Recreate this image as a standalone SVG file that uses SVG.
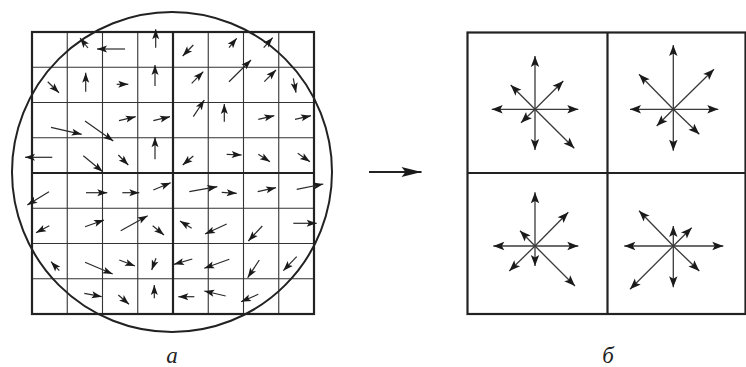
<svg xmlns="http://www.w3.org/2000/svg" width="746" height="367" viewBox="0 0 746 367">
<style>
.thin{stroke:#333;stroke-width:1.1;fill:none}
.thick{stroke:#222;stroke-width:2.2;fill:none}
.a{stroke:#2a2a2a;stroke-width:1.2;fill:none;marker-end:url(#h)}
.b{stroke:#3a3a3a;stroke-width:1.3;fill:none;marker-end:url(#hb)}
.lbl{font-family:"Liberation Serif","DejaVu Serif",serif;font-style:italic;font-size:23px;fill:#222}
</style>
<defs>
<marker id="h" markerUnits="userSpaceOnUse" markerWidth="13" markerHeight="10" refX="10" refY="0" viewBox="-1 -5 13 10" orient="auto"><path d="M0,-3.5 L10,0 L0,3.5 L2.2,0 Z" fill="#1a1a1a"/></marker>
<marker id="hb" markerUnits="userSpaceOnUse" markerWidth="15" markerHeight="11" refX="11" refY="0" viewBox="-1 -5.5 14 11" orient="auto"><path d="M0,-4.2 L11,0 L0,4.2 L2.4,0 Z" fill="#1a1a1a"/></marker>
<marker id="hm" markerUnits="userSpaceOnUse" markerWidth="24" markerHeight="14" refX="20" refY="0" viewBox="-1 -7 23 14" orient="auto"><path d="M0,-5 L20,0 L0,5 L4,0 Z" fill="#1a1a1a"/></marker>
</defs>

<g id="grid-a">
<path class="thin" d="M67.25,32V314M102.5,32V314M137.75,32V314M208.25,32V314M243.5,32V314M278.75,32V314M32,67.25H314M32,102.5H314M32,137.75H314M32,208.25H314M32,243.5H314M32,278.75H314"/>
<rect class="thick" x="32" y="32" width="282" height="282"/>
<path class="thick" d="M173,32V314M32,173H314"/>
</g>
<g id="circle-a"><circle cx="172" cy="172" r="160" fill="none" stroke="#222" stroke-width="2"/></g>

<g id="field-a">
<line class="a" x1="88" y1="48" x2="80" y2="38"/>
<line class="a" x1="125" y1="49" x2="97" y2="49"/>
<line class="a" x1="155.7" y1="47.7" x2="155.7" y2="29.3"/>
<line class="a" x1="193.3" y1="45" x2="182.7" y2="56"/>
<line class="a" x1="229" y1="47.7" x2="236.7" y2="38.3"/>
<line class="a" x1="263.7" y1="47.7" x2="272.7" y2="37.7"/>
<line class="a" x1="47.7" y1="81.7" x2="59" y2="92.7"/>
<line class="a" x1="85.7" y1="91.7" x2="85.7" y2="72.7"/>
<line class="a" x1="116.7" y1="84.3" x2="128.3" y2="84.3"/>
<line class="a" x1="155" y1="86" x2="155" y2="65"/>
<line class="a" x1="191.7" y1="83.3" x2="203.3" y2="71.7"/>
<line class="a" x1="229" y1="81.7" x2="251" y2="60"/>
<line class="a" x1="264.3" y1="81.7" x2="276" y2="70"/>
<line class="a" x1="293.3" y1="78.3" x2="296" y2="92.7"/>
<line class="a" x1="51" y1="127.3" x2="81.7" y2="134.3"/>
<line class="a" x1="85" y1="121" x2="113.3" y2="141"/>
<line class="a" x1="119" y1="120.7" x2="135.7" y2="116.7"/>
<line class="a" x1="153.3" y1="120.7" x2="170" y2="116.7"/>
<line class="a" x1="193.3" y1="116.7" x2="204.3" y2="100"/>
<line class="a" x1="224.3" y1="121.7" x2="224.3" y2="104"/>
<line class="a" x1="258.3" y1="119.3" x2="274.3" y2="115.7"/>
<line class="a" x1="295" y1="119.3" x2="311" y2="115.7"/>
<line class="a" x1="52.3" y1="157.3" x2="25" y2="157.3"/>
<line class="a" x1="83.3" y1="155.7" x2="102.7" y2="171.7"/>
<line class="a" x1="118.3" y1="155" x2="128.3" y2="165"/>
<line class="a" x1="155" y1="159.3" x2="155" y2="137.3"/>
<line class="a" x1="193.3" y1="156" x2="182.7" y2="165"/>
<line class="a" x1="226.7" y1="154.3" x2="241.7" y2="155"/>
<line class="a" x1="258.3" y1="154.3" x2="270" y2="161.7"/>
<line class="a" x1="297.7" y1="153.3" x2="310" y2="161.7"/>
<line class="a" x1="49" y1="191.7" x2="27.3" y2="205"/>
<line class="a" x1="86" y1="192.7" x2="107.3" y2="192.7"/>
<line class="a" x1="122.3" y1="192.7" x2="139.3" y2="192.7"/>
<line class="a" x1="153.3" y1="190" x2="170.7" y2="182.7"/>
<line class="a" x1="189.3" y1="191.7" x2="217.3" y2="186.7"/>
<line class="a" x1="221.7" y1="192.3" x2="236.7" y2="193.3"/>
<line class="a" x1="257.7" y1="191.7" x2="276" y2="187.7"/>
<line class="a" x1="296.7" y1="189.3" x2="323.3" y2="184"/>
<line class="a" x1="49.3" y1="225.7" x2="36" y2="232.7"/>
<line class="a" x1="85" y1="226.7" x2="104" y2="220"/>
<line class="a" x1="120.7" y1="230.7" x2="147.7" y2="215.7"/>
<line class="a" x1="152.7" y1="225.7" x2="164" y2="235"/>
<line class="a" x1="191.7" y1="228.3" x2="180" y2="221"/>
<line class="a" x1="226.7" y1="224" x2="205" y2="234"/>
<line class="a" x1="262.3" y1="226" x2="248.3" y2="241"/>
<line class="a" x1="293.3" y1="223.3" x2="316.7" y2="223.3"/>
<line class="a" x1="59.3" y1="270.7" x2="51" y2="261.7"/>
<line class="a" x1="85" y1="262.3" x2="112.7" y2="274"/>
<line class="a" x1="119.3" y1="260" x2="135" y2="266"/>
<line class="a" x1="156" y1="258.3" x2="151.7" y2="270"/>
<line class="a" x1="192.3" y1="259" x2="174" y2="264.3"/>
<line class="a" x1="229.3" y1="259.3" x2="204.3" y2="268.3"/>
<line class="a" x1="259.3" y1="260" x2="247.7" y2="277.7"/>
<line class="a" x1="296.7" y1="256.7" x2="283.3" y2="270.7"/>
<line class="a" x1="84.3" y1="293.3" x2="101.7" y2="296.7"/>
<line class="a" x1="118.3" y1="295" x2="129" y2="304.3"/>
<line class="a" x1="154.3" y1="298.3" x2="154.3" y2="285"/>
<line class="a" x1="194.3" y1="296.7" x2="178.3" y2="296.7"/>
<line class="a" x1="225.7" y1="296" x2="204.3" y2="291"/>
<line class="a" x1="258.3" y1="294.3" x2="241" y2="301.7"/>
</g>

<g id="connectors">
<line x1="369" y1="172" x2="421.5" y2="172" stroke="#222" stroke-width="2" marker-end="url(#hm)"/>
</g>

<g id="grid-b">
<rect class="thick" x="467.5" y="32.5" width="278" height="281.5"/>
<path class="thick" d="M607.5,32.5V314M467.5,173H745.5"/>
</g>

<g id="star-tl">
<line class="b" x1="535" y1="109.3" x2="535" y2="56"/>
<line class="b" x1="535" y1="109.3" x2="535" y2="150"/>
<line class="b" x1="535" y1="109.3" x2="491.7" y2="109.3"/>
<line class="b" x1="535" y1="109.3" x2="578.3" y2="109.3"/>
<line class="b" x1="535" y1="109.3" x2="510.7" y2="85"/>
<line class="b" x1="535" y1="109.3" x2="563.3" y2="81"/>
<line class="b" x1="535" y1="109.3" x2="521" y2="122.7"/>
<line class="b" x1="535" y1="109.3" x2="574.3" y2="148.3"/>
</g>
<g id="star-tr">
<line class="b" x1="673.3" y1="109.3" x2="673.3" y2="45"/>
<line class="b" x1="673.3" y1="109.3" x2="673.3" y2="150.7"/>
<line class="b" x1="673.3" y1="109.3" x2="630" y2="109.3"/>
<line class="b" x1="673.3" y1="109.3" x2="718.3" y2="109.3"/>
<line class="b" x1="673.3" y1="109.3" x2="639" y2="74.3"/>
<line class="b" x1="673.3" y1="109.3" x2="714" y2="69.3"/>
<line class="b" x1="673.3" y1="109.3" x2="656.7" y2="126"/>
<line class="b" x1="673.3" y1="109.3" x2="699.3" y2="134.3"/>
</g>
<g id="star-bl">
<line class="b" x1="535" y1="246" x2="535" y2="192.3"/>
<line class="b" x1="535" y1="246" x2="535" y2="266"/>
<line class="b" x1="535" y1="246" x2="493.3" y2="246"/>
<line class="b" x1="535" y1="246" x2="578.3" y2="246"/>
<line class="b" x1="535" y1="246" x2="520" y2="230.7"/>
<line class="b" x1="535" y1="246" x2="568.3" y2="212.3"/>
<line class="b" x1="535" y1="246" x2="509.3" y2="271"/>
<line class="b" x1="535" y1="246" x2="575" y2="286"/>
</g>
<g id="star-br">
<line class="b" x1="673.3" y1="246" x2="673.3" y2="226"/>
<line class="b" x1="673.3" y1="246" x2="673.3" y2="287.3"/>
<line class="b" x1="673.3" y1="246" x2="624.3" y2="246"/>
<line class="b" x1="673.3" y1="246" x2="723.3" y2="246"/>
<line class="b" x1="673.3" y1="246" x2="639" y2="210.7"/>
<line class="b" x1="673.3" y1="246" x2="691.7" y2="227.7"/>
<line class="b" x1="673.3" y1="246" x2="630" y2="289.3"/>
<line class="b" x1="673.3" y1="246" x2="699.3" y2="271"/>
</g>

<g id="labels">
<text class="lbl" x="172" y="363" text-anchor="middle">а</text>
<text class="lbl" x="608" y="363" text-anchor="middle">б</text>
</g>
</svg>
